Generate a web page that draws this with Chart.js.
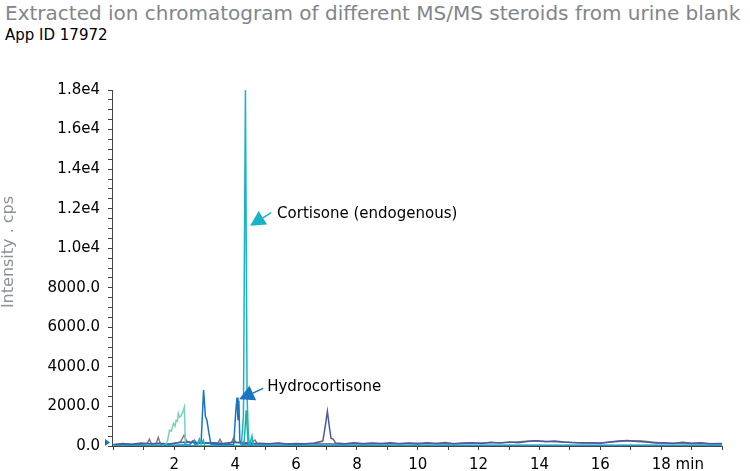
<!DOCTYPE html>
<html lang="en">
<head>
<meta charset="UTF-8">
<title>Extracted ion chromatogram</title>
<script src="https://cdn.jsdelivr.net/npm/chart.js"></script>
<style>
  body { margin: 0; background: #fff; }
  .wrap { position: relative; width: 750px; height: 471px; font-family: "DejaVu Sans", sans-serif; }
  .titulo { position: absolute; left: 5px; top: 1px; font-size: 20px; line-height: 24px; color: #80868c; white-space: nowrap; }
  .sub { position: absolute; left: 5px; top: 26px; font-size: 15px; line-height: 18px; color: #000; white-space: nowrap; }
  canvas { position: absolute; left: 0; top: 0; }
</style>
</head>
<body>
<div class="wrap">
  <div class="titulo">Extracted ion chromatogram of different MS/MS steroids from urine blank</div>
  <div class="sub">App ID 17972</div>
  <canvas id="grafico" width="750" height="471"></canvas>
</div>

<script>
// ticks
const xLabelTicks = [2, 4, 6, 8, 10, 12, 14, 16, 18];
const xTickText = ['2', '4', '6', '8', '10', '12', '14', '16', '       18 min'];
const yLabelTicks = [0, 2000, 4000, 6000, 8000, 10000, 12000, 14000, 16000, 18000];
const yTickText = ['0.0', '2000.0', '4000.0', '6000.0', '8000.0', '1.0e4', '1.2e4', '1.4e4', '1.6e4', '1.8e4'];

// traces: [time (min), intensity (cps)]
const cortisone = [[0,0],[1.6,0],[1.7,100],[1.8,0],[2.3,0],[2.35,150],[2.4,0],[2.75,0],[2.82,350],[2.88,100],[2.95,300],[3.0,0],
  [4.2,0],[4.27,1500],[4.335,18000],[4.39,2500],[4.43,600],[4.47,0],[4.55,500],[4.6,0],[20,0]];

const hydrocortisone = [[0,30],[1.0,40],[2.0,40],[2.5,60],[2.6,250],[2.68,80],[2.88,200],[2.96,2830],[3.02,1500],[3.07,1300],
  [3.13,700],[3.2,100],[3.5,60],[3.95,80],[4.02,1800],[4.06,2450],[4.09,1300],[4.12,2300],[4.15,300],[4.2,60],[5,40],[20,40]];

const tealTrace = [[0,0],[4.25,0],[4.3,300],[4.36,1800],[4.42,200],[4.5,0],[20,0]];

const mintTrace = [[0,0],[1.7,0],[1.78,300],[1.84,800],[1.9,750],[1.97,1150],[2.02,1000],[2.06,1300],[2.1,1250],[2.13,1650],
  [2.17,1450],[2.21,1500],[2.27,1700],[2.33,1980],[2.36,150],[2.45,0],[20,0]];

const navyTrace = [[0,80],[0.3,120],[0.6,90],[0.9,150],[1.2,110],[1.5,140],[1.8,100],[2.1,160],[2.4,200],[2.7,180],[3.0,150],
  [3.3,170],[3.6,130],[3.9,190],[4.2,150],[4.5,120],[4.8,140],[5.1,110],[5.4,150],[5.7,100],[6.0,130],[6.3,120],[6.6,150],
  [6.88,250],[6.97,1100],[7.03,1750],[7.1,900],[7.15,380],[7.22,350],[7.3,150],[7.6,120],[7.9,160],[8.2,110],[8.5,150],
  [8.8,130],[9.1,170],[9.4,120],[9.7,150],[10.0,110],[10.3,160],[10.6,130],[10.9,180],[11.2,120],[11.5,150],[11.8,170],
  [12.1,130],[12.4,190],[12.7,150],[13.0,200],[13.3,170],[13.6,230],[13.9,260],[14.2,220],[14.5,250],[14.8,200],[15.1,180],
  [15.4,150],[15.7,170],[16.0,140],[16.3,200],[16.6,250],[16.9,280],[17.2,230],[17.5,200],[17.8,150],[18.1,170],[18.4,130],
  [18.7,190],[19.0,140],[19.3,160],[19.6,120],[20,130]];

const grayTrace = [[0,60],[0.4,90],[0.8,70],[1.1,120],[1.18,340],[1.25,100],[1.4,110],[1.47,440],[1.54,110],[1.8,90],[2.0,130],
  [2.2,200],[2.32,550],[2.4,250],[2.55,150],[2.66,300],[2.74,120],[3.0,150],[3.42,120],[3.5,340],[3.57,130],[3.8,110],
  [3.88,180],[3.94,390],[4.02,200],[4.5,150],[4.65,300],[4.72,120],[5.0,100],[5.5,130],[6.0,90],[6.5,110],[7.0,120],[7.5,100],
  [8,130],[9,110],[10,140],[11,120],[12,150],[13,180],[13.8,260],[14.3,230],[15,180],[16,150],[16.8,250],[17.3,270],[18,150],
  [19,130],[20,120]];

function serie(nome, trace, cor) {
  return {
    label: nome,
    data: trace.map(p => ({ x: p[0], y: p[1] })),
    borderColor: cor,
    borderWidth: 1.5,
    pointRadius: 0,
    tension: 0,
    fill: false
  };
}

function seta(ctx, tx, ty, sx, sy, cor) {
  const ang = Math.atan2(ty - sy, tx - sx);
  const len = 15, half = 8;
  const bx = tx - len * Math.cos(ang), by = ty - len * Math.sin(ang);
  ctx.strokeStyle = cor;
  ctx.lineWidth = 1.5;
  ctx.beginPath(); ctx.moveTo(sx, sy); ctx.lineTo(bx, by); ctx.stroke();
  ctx.fillStyle = cor;
  ctx.beginPath();
  ctx.moveTo(tx, ty);
  ctx.lineTo(bx + half * Math.sin(ang), by - half * Math.cos(ang));
  ctx.lineTo(bx - half * Math.sin(ang), by + half * Math.cos(ang));
  ctx.closePath(); ctx.fill();
}

const notas = {
  id: 'notas',
  afterDraw(chart) {
    const ctx = chart.ctx;
    const x = chart.scales.x, y = chart.scales.y;
    ctx.save();
    ctx.font = '15px "DejaVu Sans"';
    ctx.textBaseline = 'middle';
    ctx.textAlign = 'left';

    // Cortisone
    let tx = x.getPixelForValue(4.49), ty = y.getPixelForValue(11140);
    seta(ctx, tx, ty, tx + 21, ty - 13, '#19b3c8');
    ctx.fillStyle = '#000';
    ctx.fillText('Cortisone (endogenous)', tx + 27, ty - 12);

    // Hydrocortisone
    tx = x.getPixelForValue(4.13); ty = y.getPixelForValue(2360);
    seta(ctx, tx, ty, tx + 24, ty - 11, '#1a74c0');
    ctx.fillStyle = '#000';
    ctx.fillText('Hydrocortisone', tx + 28, ty - 12);

    // little marker at origin
    const b = chart.chartArea.bottom, l = chart.chartArea.left;
    ctx.fillStyle = '#1a74c0';
    ctx.beginPath();
    ctx.moveTo(l - 7, b - 7); ctx.lineTo(l - 7, b); ctx.lineTo(l - 2, b - 3.5);
    ctx.closePath(); ctx.fill();

    // y title
    ctx.translate(9, 252);
    ctx.rotate(-Math.PI / 2);
    ctx.textAlign = 'center';
    ctx.fillStyle = '#8c9398';
    ctx.font = '16px "DejaVu Sans"';
    ctx.fillText('Intensity . cps', 0, 0);
    ctx.restore();
  }
};

new Chart(document.getElementById('grafico'), {
  type: 'line',
  data: {
    datasets: [
      serie('Cortisone', cortisone, '#19b3c8'),
      serie('Hydrocortisone', hydrocortisone, '#1a74c0'),
      serie('Teal', tealTrace, '#26ae9e'),
      serie('Mint', mintTrace, '#7ccfbd'),
      serie('Navy', navyTrace, '#4c5b9b'),
      serie('Gray', grayTrace, '#7d7d85')
    ]
  },
  options: {
    responsive: false,
    animation: false,
    layout: { padding: { top: 90, right: 28, left: 0, bottom: 0 } },
    plugins: { legend: { display: false }, tooltip: { enabled: false } },
    scales: {
      x: {
        type: 'linear',
        min: -0.05,
        max: 20,
        afterBuildTicks: s => { s.ticks = []; for (let v = 0; v <= 20; v++) s.ticks.push({ value: v }); },
        afterFit: s => { s.height = 25; },
        grid: { drawOnChartArea: false, drawTicks: true, tickLength: 4, color: '#444' },
        border: { display: true, color: '#444', width: 1 },
        ticks: {
          autoSkip: false,
          maxRotation: 0,
          padding: 6,
          color: '#000',
          font: { family: 'DejaVu Sans', size: 15 },
          callback: v => { const i = xLabelTicks.indexOf(v); return i >= 0 ? xTickText[i] : ''; }
        }
      },
      y: {
        min: 0,
        max: 18000,
        afterBuildTicks: s => { s.ticks = []; for (let v = 0; v <= 18000; v += 500) s.ticks.push({ value: v }); },
        afterFit: s => { s.width = 112; },
        grid: { drawOnChartArea: false, drawTicks: true, tickLength: 4, color: '#444' },
        border: { display: true, color: '#444', width: 1 },
        ticks: {
          autoSkip: false,
          padding: 8,
          color: '#000',
          font: { family: 'DejaVu Sans', size: 15 },
          callback: v => { const i = yLabelTicks.indexOf(v); return i >= 0 ? yTickText[i] : ''; }
        }
      }
    }
  },
  plugins: [notas]
});
</script>
</body>
</html>
